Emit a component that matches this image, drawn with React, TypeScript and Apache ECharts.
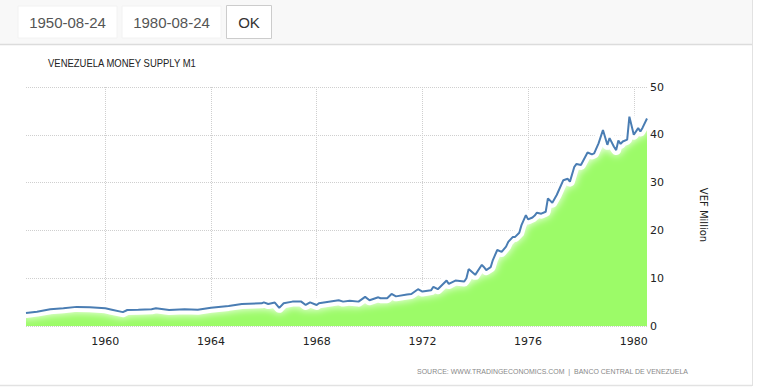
import React, { useEffect, useRef } from 'react';
import * as echarts from 'echarts';

const dates = [
  '1957-01', '1957-06', '1957-12', '1958-06', '1958-12', '1959-06', '1960-01', '1960-04', '1960-09', '1960-11',
  '1961-04', '1961-10', '1961-12', '1962-06', '1963-01', '1963-07', '1964-01', '1964-09', '1965-03', '1965-12',
  '1966-01', '1966-03', '1966-06', '1966-08', '1966-10', '1967-02', '1967-06', '1967-08', '1967-10', '1968-01',
  '1968-02', '1968-11', '1969-01', '1969-04', '1969-08', '1969-11', '1970-01', '1970-05', '1970-06', '1970-09',
  '1970-11', '1971-01', '1971-06', '1971-08', '1971-11', '1972-01', '1972-05', '1972-06', '1972-08', '1972-12',
  '1973-01', '1973-04', '1973-08', '1973-09', '1973-10', '1974-01', '1974-04', '1974-05', '1974-06', '1974-08',
  '1974-09', '1974-11', '1975-01', '1975-03', '1975-04', '1975-06', '1975-07', '1975-09', '1975-10', '1975-12',
  '1976-01', '1976-03', '1976-04', '1976-05', '1976-07', '1976-09', '1976-10', '1976-12', '1977-02', '1977-05',
  '1977-07', '1977-08', '1977-10', '1977-11', '1978-01', '1978-04', '1978-06', '1978-07', '1978-09', '1978-11',
  '1979-01', '1979-02', '1979-04', '1979-05', '1979-06', '1979-07', '1979-08', '1979-10', '1979-11', '1980-01',
  '1980-03', '1980-04', '1980-05', '1980-07',
];

const values = [
  2.7, 3.0, 3.5, 3.7, 4.0, 3.9, 3.7, 3.4, 2.9, 3.35,
  3.4, 3.5, 3.7, 3.35, 3.5, 3.4, 3.8, 4.2, 4.6, 4.75,
  4.95, 4.6, 4.9, 3.8, 4.75, 5.1, 5.1, 4.4, 4.95, 4.4,
  4.75, 5.4, 5.1, 5.3, 5.1, 6.1, 5.4, 6.0, 5.8, 5.8,
  6.7, 6.2, 6.6, 6.7, 7.7, 7.2, 7.5, 8.2, 7.7, 9.5,
  8.8, 9.5, 9.3, 10.0, 11.9, 10.7, 12.8, 12.3, 11.7, 12.3,
  13.8, 15.9, 15.5, 16.6, 17.6, 18.6, 18.6, 19.5, 21.1, 23.2,
  22.3, 22.7, 23.1, 23.7, 23.5, 23.9, 26.7, 25.8, 27.4, 30.5,
  30.8, 30.2, 33.3, 33.9, 33.7, 36.3, 35.9, 36.1, 38.2, 41.0,
  37.9, 39.3, 37.5, 36.8, 38.8, 38.1, 38.6, 39.0, 43.8, 40.0,
  41.4, 40.7, 41.5, 43.4,
];

const xTickYears = [1960, 1964, 1968, 1972, 1976, 1980];
const yTickValues = [0, 10, 20, 30, 40, 50];
const xMinDate = '1957-01';
const xMaxDate = '1980-07';

const startDateText = '1950-08-24';
const endDateText = '1980-08-24';
const buttonText = 'OK';
const titleText = 'VENEZUELA MONEY SUPPLY M1';
const unitText = 'VEF Million';
const sourceText = 'SOURCE: WWW.TRADINGECONOMICS.COM  |  BANCO CENTRAL DE VENEZUELA';

// "YYYY-MM" -> fractional year, used as the value-axis coordinate
const toYear = (d: string) => {
  const [y, m] = d.split('-').map(Number);
  return y + (m - 1) / 12;
};

export default function App() {
  const ref = useRef<HTMLDivElement>(null);

  useEffect(() => {
    if (!ref.current) return;
    const chart = echarts.init(ref.current, undefined, { renderer: 'svg' });
    const seriesData = dates.map((d, i) => [toYear(d), values[i]]);

    chart.setOption({
      animation: false,
      backgroundColor: '#ffffff',
      grid: { left: 26, right: 113, top: 87, bottom: 62, containLabel: false },
      xAxis: {
        type: 'value',
        min: toYear(xMinDate),
        max: toYear(xMaxDate),
        axisLine: { show: false },
        axisTick: { show: false, customValues: xTickYears },
        axisLabel: {
          customValues: xTickYears,
          formatter: (v: number) => String(Math.round(v)),
          color: '#222',
          fontSize: 11,
          fontFamily: 'DejaVu Sans',
          margin: 10,
        },
        splitLine: { show: true, lineStyle: { color: '#cfcfcf', type: 'dotted', width: 1 } },
      },
      yAxis: {
        type: 'value',
        position: 'right',
        min: yTickValues[0],
        max: yTickValues[yTickValues.length - 1],
        interval: 10,
        axisLine: { show: false },
        axisTick: { show: false },
        axisLabel: { color: '#222', fontSize: 11, fontFamily: 'DejaVu Sans', margin: 3 },
        splitLine: { show: true, lineStyle: { color: '#cfcfcf', type: 'dotted', width: 1 } },
      },
      series: [
        {
          type: 'line',
          data: seriesData,
          showSymbol: false,
          symbol: 'none',
          lineStyle: { width: 0, opacity: 0 },
          areaStyle: { color: '#9cfb68', opacity: 1 },
          z: 1,
          silent: true,
        },
        {
          type: 'line',
          data: seriesData,
          showSymbol: false,
          symbol: 'none',
          lineStyle: { color: '#ffffff', width: 10, shadowBlur: 9, shadowColor: '#ffffff', cap: 'round', join: 'round' },
          z: 2,
          silent: true,
        },
        {
          type: 'line',
          data: seriesData,
          showSymbol: false,
          symbol: 'none',
          lineStyle: { color: '#4a7db3', width: 2 },
          z: 3,
          silent: true,
        },
      ],
      graphic: [
        { type: 'rect', shape: { x: 0, y: 0, width: 752, height: 44 }, style: { fill: '#f8f8f8' }, z: -10 },
        { type: 'line', shape: { x1: 0, y1: 44.5, x2: 752, y2: 44.5 }, style: { stroke: '#dcdcdc', lineWidth: 1.5 } },
        { type: 'line', shape: { x1: 752.5, y1: 0, x2: 752.5, y2: 386 }, style: { stroke: '#e2e2e2', lineWidth: 1 } },
        { type: 'line', shape: { x1: 0, y1: 385.5, x2: 752, y2: 385.5 }, style: { stroke: '#e2e2e2', lineWidth: 1.5 } },
        { type: 'rect', shape: { x: 18, y: 6, width: 99, height: 32 }, style: { fill: '#ffffff', stroke: '#f2f2f2', lineWidth: 1 } },
        { type: 'rect', shape: { x: 122, y: 6, width: 99, height: 32 }, style: { fill: '#ffffff', stroke: '#f2f2f2', lineWidth: 1 } },
        { type: 'rect', shape: { x: 226.5, y: 5.5, width: 45, height: 33 }, style: { fill: '#ffffff', stroke: '#cccccc', lineWidth: 1 } },
        {
          type: 'text', x: 67.5, y: 22,
          style: { text: startDateText, fill: '#555555', font: '15px "Liberation Sans", Arial, sans-serif', textAlign: 'center', textVerticalAlign: 'middle' },
        },
        {
          type: 'text', x: 171.5, y: 22,
          style: { text: endDateText, fill: '#555555', font: '15px "Liberation Sans", Arial, sans-serif', textAlign: 'center', textVerticalAlign: 'middle' },
        },
        {
          type: 'text', x: 249, y: 22,
          style: { text: buttonText, fill: '#333333', font: '15px "Liberation Sans", Arial, sans-serif', textAlign: 'center', textVerticalAlign: 'middle' },
        },
        {
          type: 'text', x: 48, y: 63, scaleX: 0.886,
          style: { text: titleText, fill: '#222222', font: '10.7px "Liberation Sans", Arial, sans-serif', textAlign: 'left', textVerticalAlign: 'middle' },
        },
        {
          type: 'text', x: 703, y: 215, rotation: -Math.PI / 2,
          style: { text: unitText, fill: '#222222', font: '10px "DejaVu Sans"', textAlign: 'center', textVerticalAlign: 'middle' },
        },
        {
          type: 'text', x: 688, y: 371, scaleX: 0.871,
          style: { text: sourceText, fill: '#888888', font: '8px "Liberation Sans", Arial, sans-serif', textAlign: 'right', textVerticalAlign: 'middle' },
        },
      ],
    });

    return () => chart.dispose();
  }, []);

  return (
    <div
      ref={ref}
      style={{ position: 'fixed', left: 0, top: 0, width: 760, height: 388, background: '#fff' }}
    />
  );
}
